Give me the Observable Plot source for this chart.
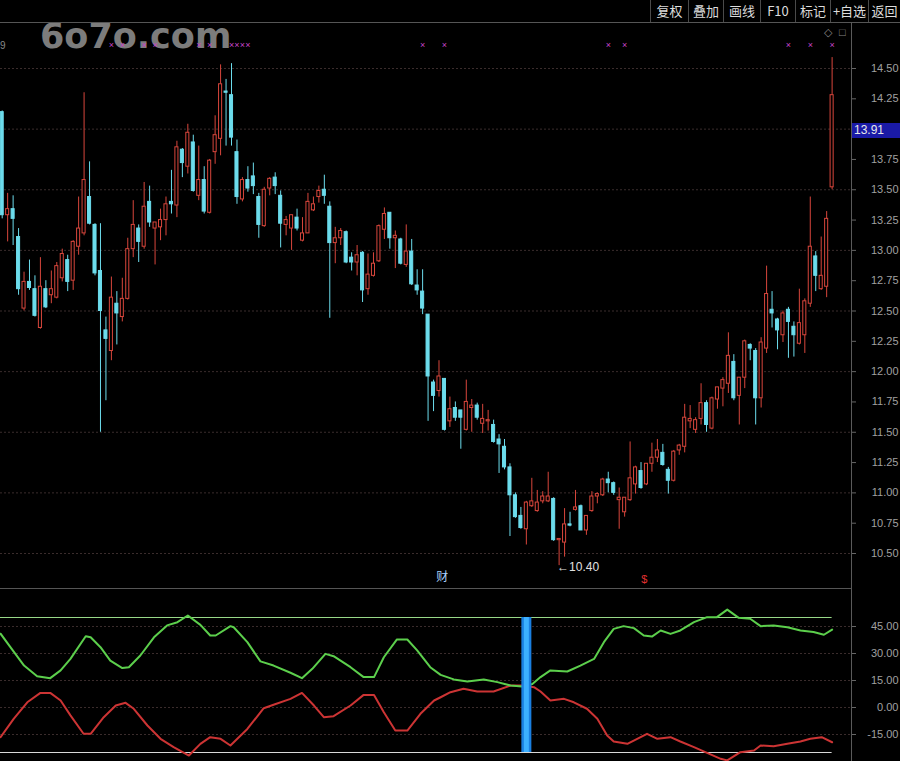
<!DOCTYPE html>
<html>
<head>
<meta charset="utf-8">
<script src="https://cdn.jsdelivr.net/npm/d3@7"></script>
<script src="https://cdn.jsdelivr.net/npm/@observablehq/plot@0.6"></script>
<style>
  html, body { margin: 0; padding: 0; background: #000; }
  #wrap { position: relative; width: 900px; height: 761px; background: #000; overflow: hidden; font-family: "Liberation Sans", Arial, sans-serif; }
  #toolbar { position: absolute; top: 0; right: 0; height: 22px; display: flex; }
  #toolbar div { height: 22px; line-height: 22px; text-align: center; color: #dcdcdc; font-size: 13px; font-family: "Noto Sans CJK SC", sans-serif; border-left: 1px solid #4a4a4a; box-sizing: border-box; }
  #topline { position: absolute; left: 0; top: 22px; width: 900px; height: 1px; background: #555; }
  #axisline { position: absolute; left: 851px; top: 22px; width: 1px; height: 739px; background: #5a5a5a; }
  #sepline { position: absolute; left: 0; top: 588px; width: 851px; height: 1px; background: #555; }
  #watermark { position: absolute; left: 40px; top: 16px; font-size: 35px; font-weight: bold; color: #7c7c7c; font-family: "DejaVu Sans", sans-serif; }
  #main, #osc { position: absolute; left: 0; }
  #main { top: 0; }
  #osc { top: 588px; }
  #pricebox { position: absolute; left: 852px; width: 48px; height: 15px; line-height: 15px; background: #1a1aa6; color: #e8e8e8; font-size: 12px; padding-left: 2px; box-sizing: border-box; }
  .small { position: absolute; color: #888; font-size: 12px; }
</style>
</head>
<body>
<div id="wrap">
  <div id="watermark">6o7o.com</div>
  <div id="main"></div>
  <div id="osc"></div>
  <div id="topline"></div>
  <div id="axisline"></div>
  <div id="sepline"></div>
  <div id="toolbar"></div>
  <div id="pricebox"></div>
  <div class="small" style="left:0px; top:40px; font-size:10px;">9</div>
  <div class="small" style="left:824px; top:26px; font-size:11px;">◇</div>
  <div class="small" style="left:839px; top:26px; font-size:11px;">□</div>
</div>
<script>
// ---------- data ----------
const toolbarLabels = ["复权", "叠加", "画线", "F10", "标记", "+自选", "返回"];
const opens  = [14.14,13.29,13.34,13.11,12.52,12.74,12.68,12.36,12.68,12.63,12.61,12.77,12.92,12.75,13.03,13.14,13.44,13.21,12.83,12.34,12.17,12.56,12.45,12.60,13.01,13.18,13.03,13.40,13.18,13.19,13.25,13.40,13.37,13.83,13.69,13.89,13.45,13.58,13.31,13.81,13.92,14.31,14.28,13.81,13.42,13.58,13.61,13.44,13.20,13.51,13.60,13.45,13.21,13.18,13.27,13.08,13.14,13.33,13.44,13.50,13.36,13.06,13.10,13.15,12.94,12.90,12.98,12.68,12.79,12.91,13.17,13.31,13.10,13.09,12.88,12.99,12.71,12.66,12.47,11.91,11.84,11.94,11.59,11.70,11.68,11.52,11.70,11.72,11.57,11.59,11.56,11.44,11.38,11.21,10.98,10.81,10.70,10.89,10.85,10.93,10.93,10.95,10.61,10.59,10.74,10.86,10.89,10.69,10.85,10.97,10.98,11.11,11.08,10.94,10.84,10.94,11.07,11.18,11.07,11.24,11.29,11.33,11.19,11.10,11.35,11.38,11.59,11.52,11.61,11.74,11.53,11.77,11.86,11.90,12.08,11.80,11.95,12.22,12.17,11.78,12.19,12.51,12.43,12.30,12.51,12.37,12.23,12.30,12.56,12.95,12.68,12.70,13.52];
const closes = [13.29,13.34,13.26,12.68,12.74,12.69,12.46,12.70,12.53,12.68,12.87,12.97,12.74,13.07,13.18,13.58,13.22,12.81,12.50,12.27,12.61,12.48,12.60,13.01,13.21,13.07,13.36,13.23,13.23,13.25,13.38,13.38,13.85,13.72,13.97,13.49,13.58,13.32,13.74,13.95,14.37,14.30,13.93,13.44,13.58,13.51,13.53,13.21,13.50,13.59,13.53,13.22,13.25,13.29,13.18,13.14,13.40,13.38,13.49,13.45,13.06,13.10,13.16,12.90,12.90,12.96,12.67,12.80,12.89,13.20,13.30,13.10,13.12,12.89,12.99,12.72,12.67,12.52,11.96,11.80,11.96,11.52,11.69,11.62,11.62,11.75,11.72,11.62,11.61,11.60,11.42,11.40,11.21,10.98,10.80,10.71,10.92,10.93,10.92,10.97,10.97,10.61,10.62,10.74,10.73,10.88,10.69,10.81,10.97,10.99,11.11,11.08,11.00,10.96,10.96,11.12,11.21,11.04,11.24,11.29,11.35,11.23,11.10,11.34,11.39,11.62,11.61,11.60,11.74,11.56,11.78,11.87,11.93,12.13,11.78,11.95,12.25,12.19,11.78,12.24,12.64,12.48,12.34,12.48,12.41,12.30,12.40,12.58,13.03,12.79,12.79,13.26,14.28];
const highs  = [14.15,13.47,13.45,13.18,12.82,12.92,12.79,12.94,12.75,12.83,12.90,13.01,12.96,13.08,13.44,14.30,13.73,13.22,13.22,12.45,12.78,12.66,12.77,13.10,13.41,13.21,13.56,13.53,13.23,13.34,13.44,13.66,13.90,13.84,14.04,13.95,13.86,13.69,13.75,14.11,14.53,14.41,14.54,13.91,13.60,13.69,13.72,13.47,13.52,13.60,13.64,13.49,13.28,13.29,13.34,13.27,13.47,13.44,13.53,13.62,13.40,13.19,13.18,13.16,12.98,13.04,12.99,12.97,12.98,13.21,13.35,13.31,13.16,13.10,13.21,13.09,12.84,12.84,12.47,11.93,12.09,11.94,11.79,11.75,11.68,11.93,11.77,11.74,11.73,11.68,11.60,11.48,11.44,11.24,11.00,10.88,10.93,11.12,11.02,11.01,11.17,10.96,10.62,10.87,10.84,11.02,10.90,10.81,11.01,11.00,11.12,11.17,11.09,11.04,10.96,11.42,11.22,11.25,11.24,11.41,11.44,11.40,11.21,11.35,11.40,11.73,11.72,11.62,11.90,11.76,11.79,11.87,11.95,12.32,12.14,11.95,12.26,12.23,12.19,12.28,12.87,12.66,12.44,12.50,12.53,12.41,12.68,12.60,13.44,12.99,13.11,13.32,14.59];
const lows   = [13.26,13.07,13.04,12.63,12.50,12.67,12.45,12.35,12.52,12.56,12.60,12.74,12.66,12.67,12.96,13.12,13.21,12.79,11.50,11.76,12.09,12.22,12.41,12.59,12.94,12.90,13.01,13.19,12.88,13.08,13.12,13.30,13.27,13.60,13.63,13.48,13.41,13.30,13.30,13.71,13.78,13.86,13.86,13.38,13.40,13.48,13.46,13.10,13.19,13.45,13.46,13.02,13.12,13.00,13.16,13.07,13.14,13.32,13.39,13.38,12.44,12.89,13.04,12.89,12.83,12.79,12.57,12.63,12.78,12.90,13.09,13.01,12.85,12.88,12.86,12.71,12.63,12.47,11.59,11.67,11.79,11.51,11.54,11.59,11.36,11.51,11.50,11.60,11.49,11.51,11.41,11.16,11.19,10.64,10.79,10.70,10.57,10.88,10.84,10.91,10.92,10.60,10.40,10.47,10.72,10.85,10.69,10.65,10.84,10.91,10.97,11.00,10.98,10.70,10.80,10.93,10.99,11.03,11.06,11.17,11.25,11.22,10.99,11.09,11.31,11.33,11.53,11.49,11.56,11.50,11.52,11.69,11.71,11.82,11.76,11.56,11.86,12.09,11.56,11.70,12.15,12.36,12.18,12.24,12.11,12.12,12.22,12.15,12.53,12.66,12.67,12.61,13.50];

const priceTicks = [14.5,14.25,14.0,13.75,13.5,13.25,13.0,12.75,12.5,12.25,12.0,11.75,11.5,11.25,11.0,10.75,10.5];
const priceGrid = [14.5,14.0,13.5,13.0,12.5,12.0,11.5,11.0,10.5];
const lastPrice = 13.91;
const lowIdx = 102, lowLabel = "←10.40";
const markerIdx = [20,22,26,28,36,38,42,43,44,45,77,81,111,114,144,148,152];
const finIdx = 80.6, finLabel = "财";
const dollarIdx = 117.6, dollarLabel = "$";

// oscillator (index, value)
const greenIdx = [-0.3,1.5,4.0,6.4,8.8,10.7,12.5,15.3,16.2,18.0,19.8,22.0,23.2,25.3,27.8,30.2,32.1,34.0,36.3,38.1,39.1,41.8,42.4,44.9,47.3,49.7,52.8,54.9,56.8,59.2,60.7,63.8,66.2,68.1,69.9,72.3,74.2,76.0,78.4,80.3,82.7,85.2,88.2,90.7,93.1,95.2,97.1,98.6,100.4,103.5,105.9,108.4,110.2,112.0,113.8,115.7,117.5,119.0,120.6,122.4,124.2,126.7,129.1,130.9,132.8,134.9,137.0,138.9,141.3,143.8,146.2,148.6,150.5,152.0];
const greenVal = [41,33.5,23.3,17.4,16.3,20.6,27,39.6,39,33.5,26,21.9,22.4,28.9,39,45.6,47.4,51.1,45.9,40,40,45.2,44.6,36.3,25.6,23.3,19.3,16.3,21.5,29.8,28.5,22.4,16.9,16.9,27.9,37.8,37.8,31.7,22.4,18.1,15.6,14.4,15.6,14.1,12.2,11.7,13.1,16.9,20.6,20,23.3,27,36.3,43.7,45.2,44.1,40,39.4,42.8,40.9,42.8,47.4,50.2,50.2,54.4,49.8,49.3,45.2,45.6,44.6,42.8,41.9,40.4,43.3];
const redIdx = [-0.3,2.1,4.6,7.0,8.8,10.7,12.5,14.9,16.2,18.6,20.8,22.6,24.1,26.6,29.0,31.4,34.2,36.3,38.1,40.0,41.8,44.9,47.9,49.7,52.8,54.9,57.1,58.9,60.7,63.8,66.2,68.1,69.9,72.0,74.2,76.6,79.1,80.3,82.1,84.5,87.0,90.0,93.1,95.5,97.4,98.6,100.4,102.9,104.7,107.1,109.0,110.8,112.0,114.5,116.3,118.1,120.0,122.4,124.2,126.7,129.1,131.6,132.8,135.2,137.7,138.9,141.3,143.8,146.2,148.0,150.1,152.0];
const redVal = [-16.5,-6.3,2.9,8.1,8.1,3.9,-4.4,-14.6,-14.6,-5.4,1.1,2.6,-0.7,-10,-17.4,-22,-26.7,-20.2,-16.5,-17.4,-21.1,-11.9,-0.4,1.5,4.8,8.1,1.1,-5.4,-4.8,1.1,7,7,-2.6,-12.8,-12.8,-3.5,3.9,5.7,8.5,10.4,8.9,8.9,12.2,12.2,11.3,8.9,3.9,4.8,2.9,-0.7,-6.3,-15.6,-18.9,-20.2,-17.4,-14.6,-17.4,-16.5,-18.9,-22,-25.2,-28.5,-29.4,-24.8,-23.9,-21.1,-21.5,-20.2,-18.9,-17.4,-16.5,-19.3];
const oscTicks = [45, 30, 15, 0, -15];
const upperLevel = 50, lowerLevel = -25;
const signalIdx = 96;

// ---------- build ----------
const RED = "#d8463c", CYAN = "#6cdcec", GRID = "#3a2c2c", LABEL = "#a0a0a0";
const X_DOMAIN = [-0.31, 155.55];
const lastIdx = opens.length - 1;
const candles = opens.map((o, i) => ({i, o, c: closes[i], h: highs[i], l: lows[i], up: closes[i] > opens[i]}));
const fmt = d => d.toFixed(2);
const font = "Liberation Sans, Arial, sans-serif";

const tb = document.getElementById("toolbar");
const tbW = [38, 35, 37, 35, 35, 38, 32];
toolbarLabels.forEach((t, k) => { const d = document.createElement("div"); d.textContent = t; d.style.width = tbW[k] + "px"; tb.appendChild(d); });

const main = Plot.plot({
  width: 900, height: 588,
  marginTop: 68, marginBottom: 35, marginLeft: 0, marginRight: 49,
  x: {domain: X_DOMAIN, axis: null},
  y: {domain: [10.5, 14.5], axis: null},
  style: {background: "transparent", overflow: "visible", fontFamily: font},
  marks: [
    Plot.ruleY(priceGrid, {stroke: GRID, strokeDasharray: "2,2"}),
    Plot.ruleX(candles, {x: "i", y1: "l", y2: "h", stroke: d => d.up ? RED : CYAN, strokeWidth: 1}),
    Plot.rect(candles, {x1: d => d.i - 0.28, x2: d => d.i + 0.28, y1: "o", y2: "c",
      fill: d => d.up ? "#000" : CYAN, stroke: d => d.up ? RED : CYAN, strokeWidth: 1}),
    Plot.axisY({anchor: "right", ticks: priceTicks, tickSize: 4, tickFormat: () => "", stroke: "#666"}),
    Plot.text(priceTicks, {y: d => d, frameAnchor: "right", dx: 47, textAnchor: "end", text: fmt, fill: LABEL, fontSize: 11}),
    Plot.text(markerIdx, {x: d => d, frameAnchor: "top", dy: -27, text: () => "×", fill: "#c844c8", fontSize: 9}),
    Plot.text([lowIdx], {x: d => d, y: () => lows[lowIdx], dy: 2, dx: -2, textAnchor: "start", text: () => lowLabel, fill: "#e0e0e0", fontSize: 12}),
    Plot.text([finIdx], {x: d => d, frameAnchor: "bottom", dy: 27, text: () => finLabel, fill: "#a8d0ff", fontSize: 12, fontFamily: "Noto Sans CJK SC"}),
    Plot.text([dollarIdx], {x: d => d, frameAnchor: "bottom", dy: 29, text: () => dollarLabel, fill: "#e03030", fontSize: 11})
  ]
});
document.getElementById("main").appendChild(main);

const pb = document.getElementById("pricebox");
pb.textContent = fmt(lastPrice);
pb.style.top = (main.scale("y").apply(lastPrice) - 17) + "px";

const greenPts = greenIdx.map((i, k) => ({i, v: greenVal[k]}));
const redPts = redIdx.map((i, k) => ({i, v: redVal[k]}));

const osc = Plot.plot({
  width: 900, height: 173,
  marginTop: 29, marginBottom: 9, marginLeft: 0, marginRight: 49,
  x: {domain: X_DOMAIN, axis: null},
  y: {domain: [lowerLevel, upperLevel], axis: null},
  style: {background: "transparent", overflow: "visible", fontFamily: font},
  marks: [
    Plot.ruleY(oscTicks, {stroke: GRID, strokeDasharray: "2,2"}),
    Plot.ruleY([upperLevel], {x1: X_DOMAIN[0], x2: lastIdx, stroke: "#98d888", strokeWidth: 1}),
    Plot.ruleY([lowerLevel], {x1: X_DOMAIN[0], x2: lastIdx, stroke: "#d8d8d8", strokeWidth: 1}),
    Plot.line(redPts, {x: "i", y: "v", stroke: "#cc3434", strokeWidth: 2}),
    Plot.line(greenPts, {x: "i", y: "v", stroke: "#5ccf4c", strokeWidth: 2}),
    Plot.ruleX([signalIdx], {y1: lowerLevel, y2: upperLevel, stroke: "#1a7fe0", strokeWidth: 10}),
    Plot.ruleX([signalIdx], {y1: lowerLevel, y2: upperLevel, stroke: "#3cb0ff", strokeWidth: 5}),
    Plot.axisY({anchor: "right", ticks: oscTicks, tickSize: 4, tickFormat: () => "", stroke: "#666"}),
    Plot.text(oscTicks, {y: d => d, frameAnchor: "right", dx: 47, textAnchor: "end", text: fmt, fill: LABEL, fontSize: 11})
  ]
});
document.getElementById("osc").appendChild(osc);
</script>
</body>
</html>
